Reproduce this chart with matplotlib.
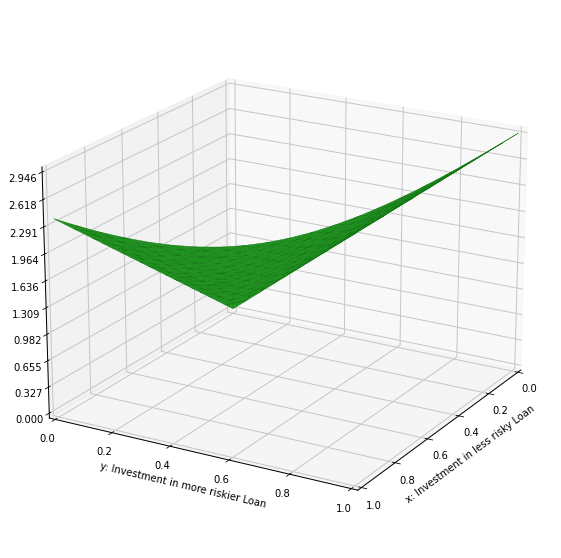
import matplotlib
matplotlib.use("Agg")
import matplotlib.pyplot as plt

plt.rcParams['axes3d.automargin'] = True

grid_steps = [0, .05, .1, .15, .2, .25, .3, .35, .4, .45, .5, .55, .6, .65, .7, .75, .8, .85, .9, .95, 1.0]
# z per row of x (x = grid_steps[row]), column y = grid_steps[col], only where x + y <= 1
z_rows = [
 [0, .147, .295, .442, .589, .737, .884, 1.031, 1.178, 1.326, 1.473, 1.620, 1.768, 1.915, 2.062, 2.210, 2.357, 2.504, 2.651, 2.799, 2.946],
 [.119, .189, .318, .458, .601, .746, .892, 1.038, 1.184, 1.331, 1.478, 1.625, 1.772, 1.919, 2.066, 2.213, 2.360, 2.507, 2.654, 2.801],
 [.238, .280, .379, .502, .636, .774, .915, 1.058, 1.202, 1.347, 1.492, 1.638, 1.784, 1.930, 2.076, 2.222, 2.369, 2.515, 2.662],
 [.357, .386, .463, .568, .689, .819, .953, 1.091, 1.231, 1.373, 1.516, 1.659, 1.803, 1.948, 2.093, 2.238, 2.384, 2.529],
 [.476, .498, .560, .649, .757, .877, 1.004, 1.136, 1.271, 1.409, 1.548, 1.689, 1.831, 1.973, 2.116, 2.260, 2.404],
 [.595, .613, .664, .741, .837, .947, 1.065, 1.190, 1.320, 1.453, 1.589, 1.726, 1.865, 2.005, 2.146, 2.288],
 [.714, .729, .772, .840, .926, 1.026, 1.136, 1.254, 1.378, 1.506, 1.637, 1.771, 1.906, 2.044, 2.182],
 [.833, .846, .883, .943, 1.020, 1.112, 1.214, 1.326, 1.443, 1.566, 1.692, 1.822, 1.954, 2.088],
 [.952, .963, .997, 1.050, 1.120, 1.204, 1.299, 1.403, 1.515, 1.632, 1.754, 1.879, 2.008],
 [1.071, 1.081, 1.111, 1.159, 1.222, 1.300, 1.389, 1.487, 1.592, 1.704, 1.821, 1.942],
 [1.190, 1.199, 1.226, 1.269, 1.328, 1.399, 1.482, 1.575, 1.675, 1.781, 1.894],
 [1.309, 1.317, 1.342, 1.381, 1.435, 1.502, 1.579, 1.666, 1.761, 1.863],
 [1.428, 1.436, 1.458, 1.495, 1.545, 1.607, 1.679, 1.761, 1.851],
 [1.547, 1.554, 1.575, 1.609, 1.655, 1.713, 1.782, 1.859],
 [1.666, 1.672, 1.692, 1.723, 1.767, 1.821, 1.886],
 [1.785, 1.791, 1.809, 1.839, 1.880, 1.931],
 [1.904, 1.910, 1.927, 1.955, 1.993],
 [2.023, 2.028, 2.044, 2.071],
 [2.142, 2.147, 2.162],
 [2.261, 2.266],
 [2.380],
]
xticks = [0, .2, .4, .6, .8, 1.0]
yticks = [0, .2, .4, .6, .8, 1.0]
zticks = [0, .327, .655, .982, 1.309, 1.636, 1.964, 2.291, 2.618, 2.946]

px, py, pz = [], [], []
for r, row in enumerate(z_rows):
    for c, v in enumerate(row):
        px.append(grid_steps[r]); py.append(grid_steps[c]); pz.append(v)

fig = plt.figure(figsize=(561/72, 558/72), dpi=72)
ax = fig.add_axes([0.003, -0.001, 1, 1], projection='3d')
ax.view_init(elev=20, azim=30)
ax.set_box_aspect((1, 1, .75), zoom=0.975)
ax.plot_trisurf(px, py, pz, color='#1f941f', edgecolor='#0e730e', linewidth=0.4, shade=False)
ax.set_xlim(0, 1); ax.set_ylim(0, 1); ax.set_zlim(0, 2.946)
ax.set_xticks(xticks); ax.set_yticks(yticks); ax.set_zticks(zticks)
ax.set_zticklabels([f"{v:.3f}" for v in zticks])
ax.set_xlabel("x: Investment in less risky Loan")
ax.set_ylabel("y: Investment in more riskier Loan")
for a in (ax.xaxis, ax.yaxis, ax.zaxis):
    a.line.set_color('k'); a.line.set_linewidth(1.0)
    a._axinfo['grid'].update(color='#c6c6c6', linewidth=1.0)
fig.savefig("out.png", dpi=72)
